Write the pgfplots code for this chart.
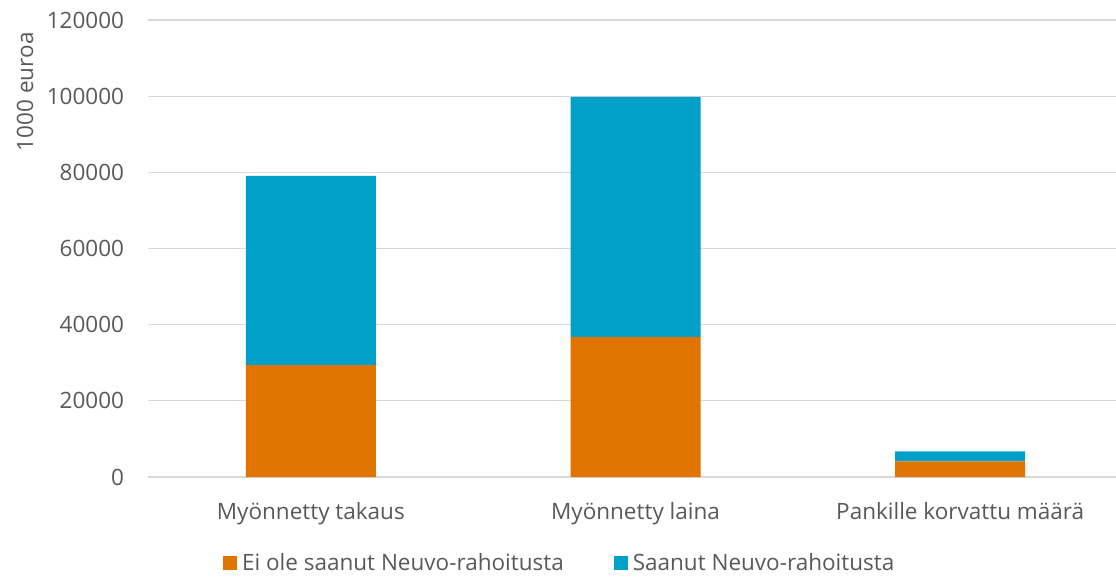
\documentclass[border=0pt]{standalone}
\usepackage{fontspec}
\setmainfont{Open Sans}
\usepackage{pgfplots}
\pgfplotsset{compat=1.18}
\definecolor{txtgrey}{RGB}{89,89,89}
\definecolor{gridgrey}{RGB}{217,217,217}
\definecolor{cOrange}{RGB}{224,116,0}
\definecolor{cBlue}{RGB}{0,160,200}

\begin{document}
\begin{tikzpicture}
\useasboundingbox (-148.5bp,-100bp) rectangle (967.5bp,477bp);
\begin{axis}[
  scale only axis,
  width=967.5bp, height=457bp,
  ybar stacked,
  bar width=130bp,
  xmin=-0.5, xmax=2.48,
  ymin=0, ymax=120000,
  xtick={0,1,2},
  xticklabels={Myönnetty takaus, Myönnetty laina, Pankille korvattu määrä},
  ytick={0,20000,40000,60000,80000,100000,120000},
  yticklabels={0,20000,40000,60000,80000,100000,120000},
  scaled y ticks=false,
  axis line style={draw=none},
  major tick length=0pt,
  ymajorgrids=true,
  grid style={gridgrey, line width=1.3bp},
  font=\fontsize{22.5bp}{27bp}\selectfont,
  tick label style={txtgrey},
  yticklabel style={anchor=east, xshift=-21bp},
  xticklabel style={anchor=north, yshift=-22bp},
  ylabel={1000 euroa},
  every axis y label/.style={at={(rel axis cs:0,0.843)}, xshift=-123.5bp, rotate=90, anchor=center, txtgrey},
  legend columns=2,
  legend style={draw=none, fill=none, at={(rel axis cs:0.425,-0.188)}, anchor=center,
    font=\fontsize{22.5bp}{27bp}\selectfont, text=txtgrey,
    /tikz/every odd column/.append style={column sep=3bp},
    /tikz/every even column/.append style={column sep=48bp}},
  legend image code/.code={\fill[#1] (0bp,-7bp) rectangle (14bp,7bp);},
]
\addplot[fill=cOrange, draw=none] coordinates {(0,29400) (1,36800) (2,4100)};
\addlegendentry{Ei ole saanut Neuvo-rahoitusta}
\addplot[fill=cBlue, draw=none] coordinates {(0,49700) (1,63000) (2,2600)};
\addlegendentry{Saanut Neuvo-rahoitusta}
\end{axis}
\end{tikzpicture}
\end{document}
